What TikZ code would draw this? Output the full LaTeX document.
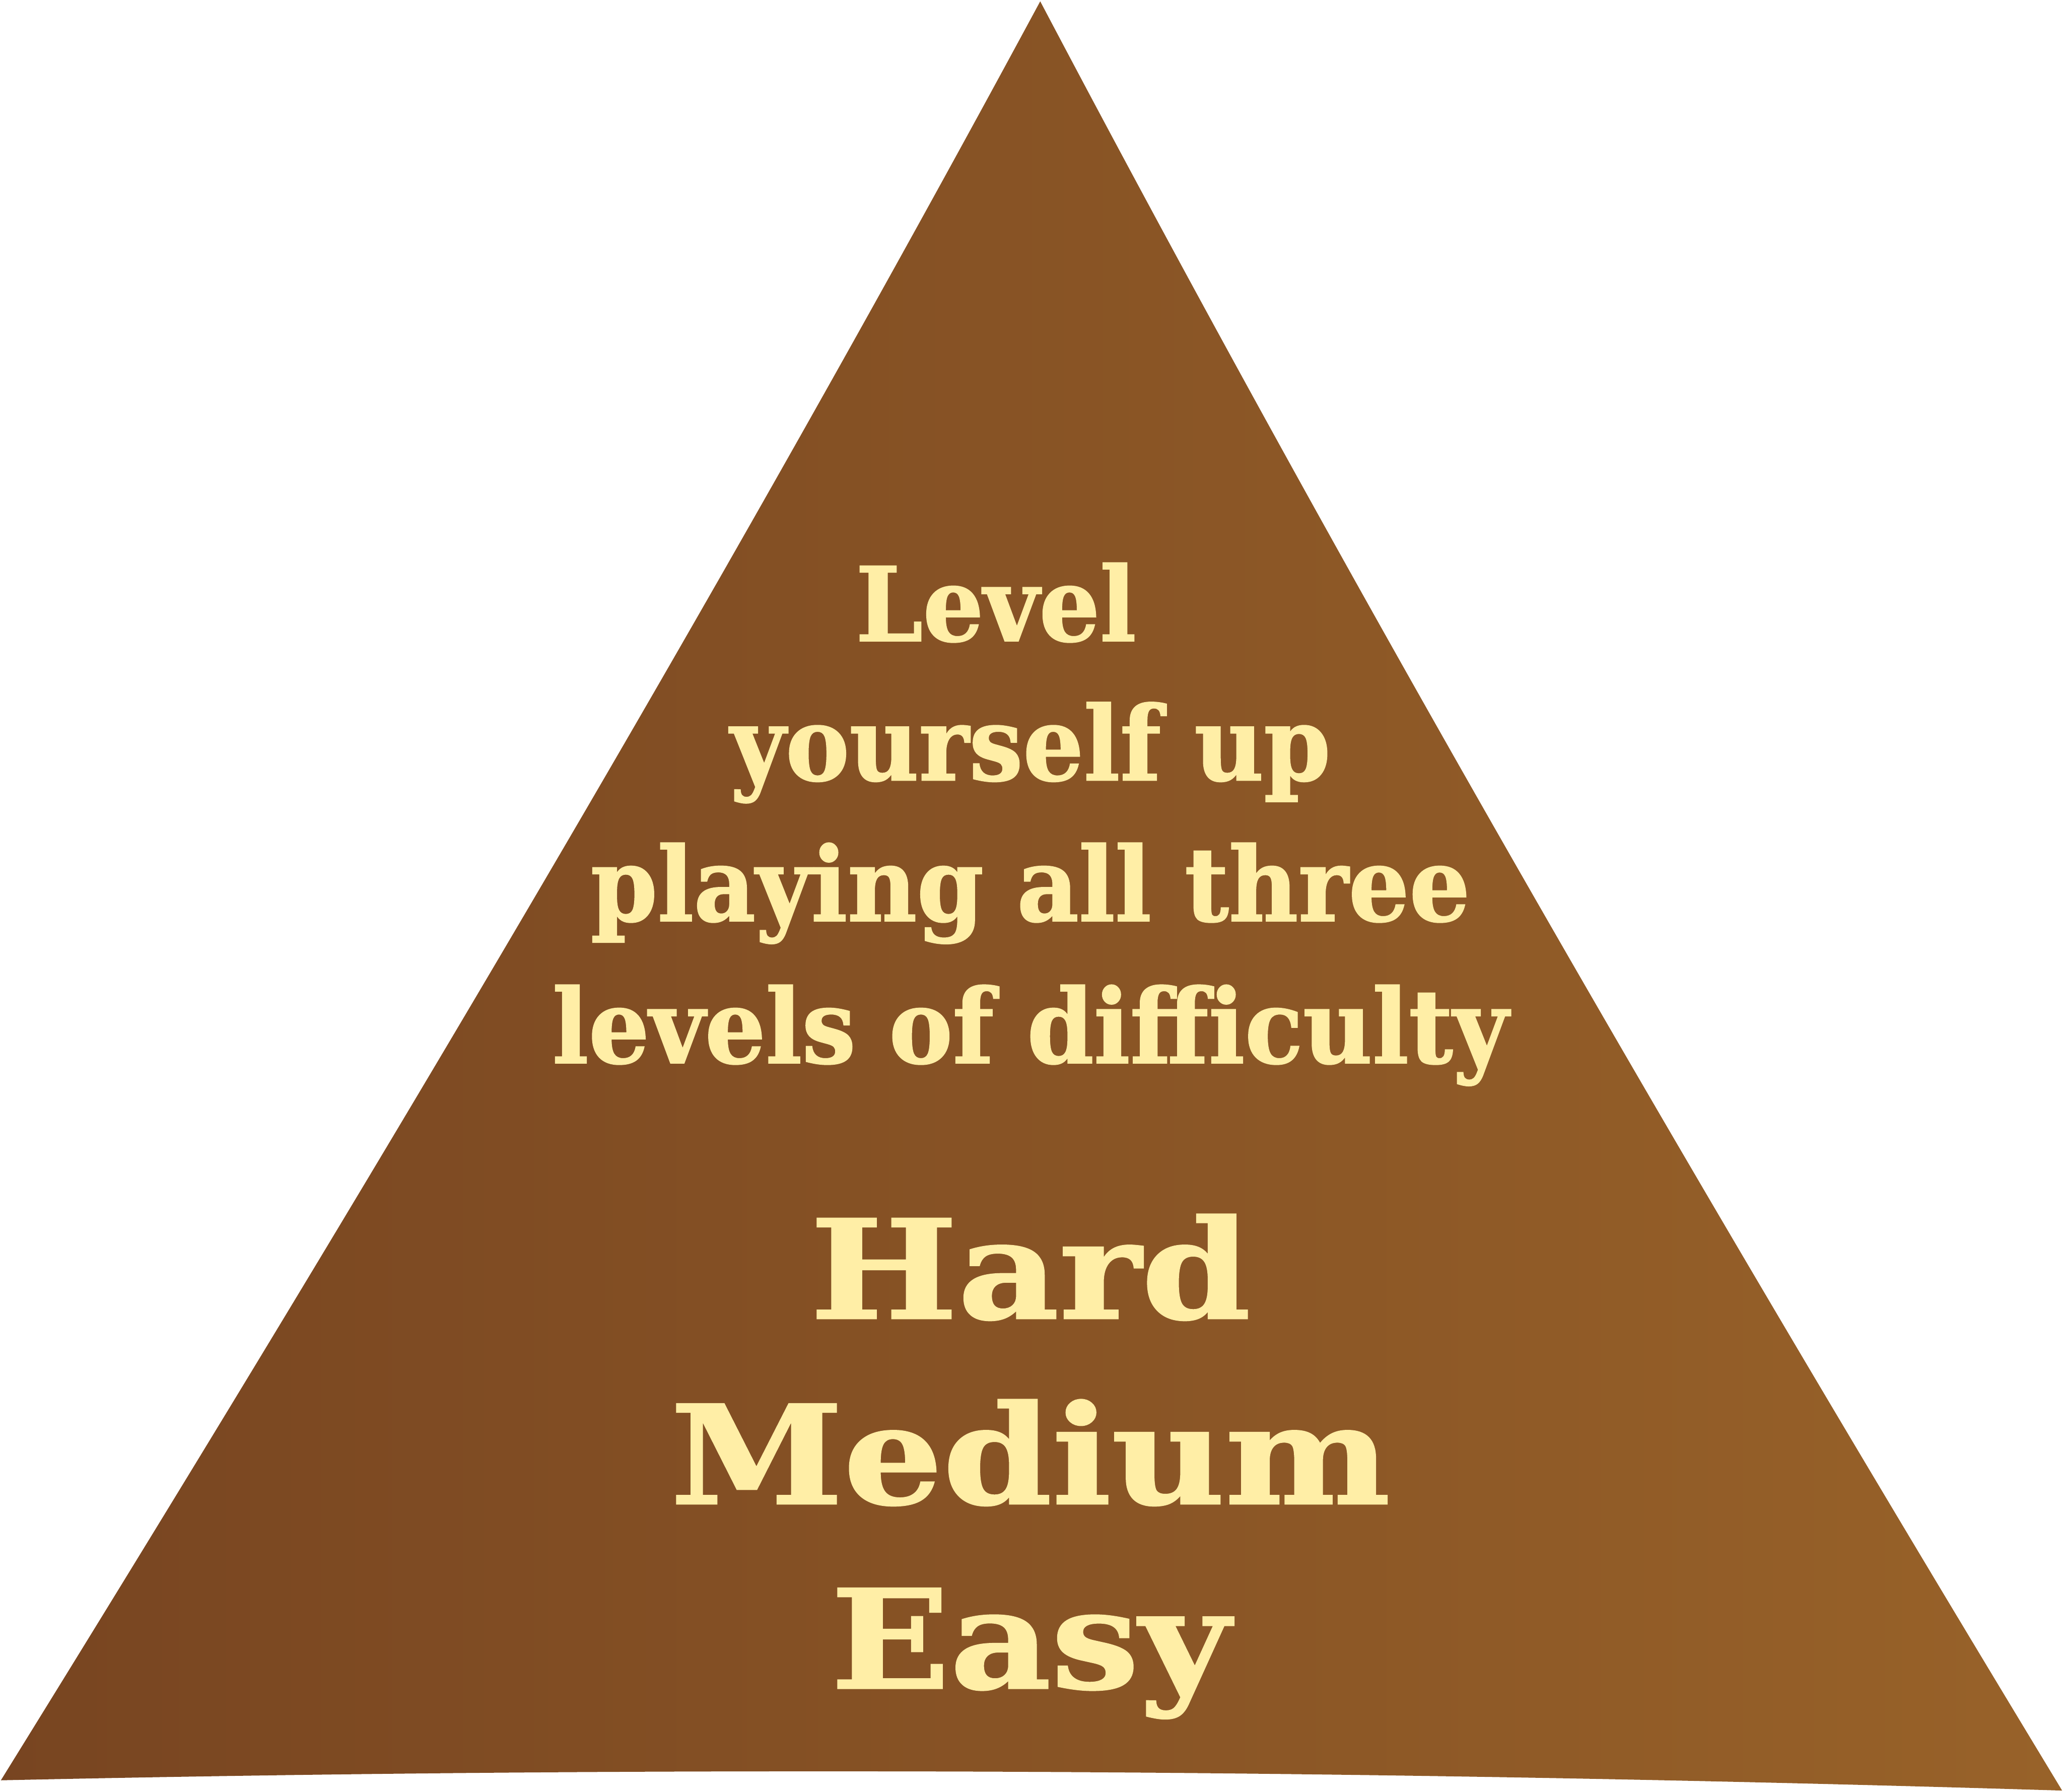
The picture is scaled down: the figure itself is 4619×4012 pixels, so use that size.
\documentclass[tikz,border=0pt]{standalone}
\usepackage{fontspec}
\newfontfamily\topfont[FakeStretch=0.93,FakeBold=1.2]{DejaVu Serif}
\newfontfamily\bigfont[FakeStretch=1.14,FakeBold=1.2]{DejaVu Serif}
\definecolor{pyrleft}{RGB}{120,69,33}
\definecolor{pyrright}{RGB}{152,98,41}
\definecolor{pyrtext}{RGB}{255,238,166}
\tikzset{
  line/.style={font=\topfont\bfseries\fontsize{23pt}{23pt}\selectfont, text=pyrtext, anchor=base, inner sep=0pt},
  level/.style={font=\bigfont\bfseries\fontsize{30.7pt}{30.7pt}\selectfont, text=pyrtext, anchor=base, inner sep=0pt}
}
\begin{document}
\begin{tikzpicture}[x=0.1pt,y=-0.1pt]
\useasboundingbox (0,0) rectangle (4619,4012);
\coordinate (apex) at (2329,3);
\coordinate (bl) at (2,3986);
\coordinate (br) at (4617,4009);
\shade[left color=pyrleft, right color=pyrright]
  (apex) .. controls (1600,1355) and (812,2678) .. (bl)
  .. controls (1540,3952) and (3079,3962) .. (br)
  .. controls (3820,2693) and (3045,1362) .. (apex) -- cycle;
\node[line] (t1) at (2230,1435) {Level};
\node[line] (t2) at (2307,1747) {yourself up};
\node[line] (t3) at (2307,2062) {playing all three};
\node[line] (t4) at (2307,2380) {levels of difficulty};
\node[level] (hard) at (2307,2952) {Hard};
\node[level] (medium) at (2307,3367) {Medium};
\node[level] (easy) at (2307,3780) {Easy};
\end{tikzpicture}
\end{document}
